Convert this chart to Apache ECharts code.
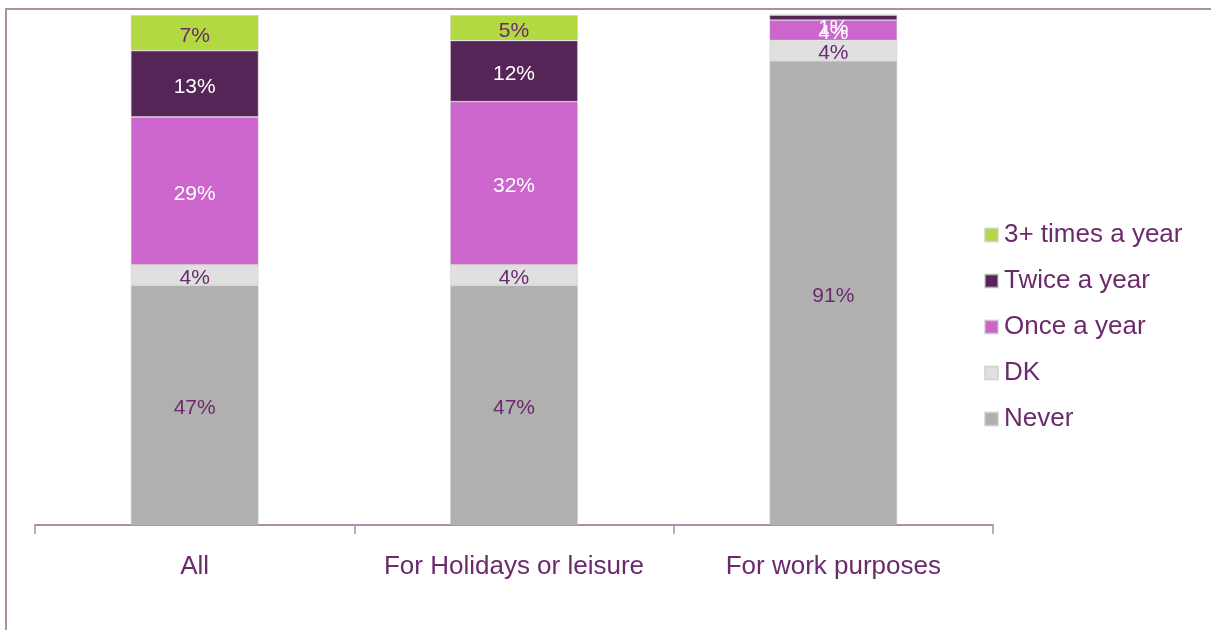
<!DOCTYPE html>
<html>
<head>
<meta charset="utf-8">
<script src="https://cdn.jsdelivr.net/npm/echarts@6/dist/echarts.min.js"></script>
<style>
html,body{margin:0;padding:0;background:#fff;}
#chart{width:1211px;height:630px;}
</style>
</head>
<body>
<div id="chart"></div>
<script>
const categories = ['All', 'For Holidays or leisure', 'For work purposes'];
const never = [47, 47, 91];
const dk = [4, 4, 4];
const once = [29, 32, 4];
const twice = [13, 12, 1];
const threePlus = [7, 5, 0];
const legendOrder = ['3+ times a year', 'Twice a year', 'Once a year', 'DK', 'Never'];

const purple = '#6a2a6c';
const axisCol = '#a890a8';
const font = 'Liberation Sans, Arial, sans-serif';

function mk(name, data, color, labelColor) {
  return {
    name: name,
    type: 'bar',
    stack: 'total',
    barWidth: '40%',
    data: data.map(v => {
      // tiny segments: Excel pushes the label down inside the bar
      if (v > 0 && v < 3) return { value: v, label: { offset: [0, 11] } };
      return v;
    }),
    itemStyle: { color: color, borderColor: 'rgba(200,200,200,0.6)', borderWidth: 0.8 },
    label: {
      show: true,
      position: 'inside',
      offset: [0, 3],
      formatter: p => (p.value === 0 ? '' : p.value + '%'),
      color: labelColor,
      fontFamily: font,
      fontSize: 21
    }
  };
}

const chart = echarts.init(document.getElementById('chart'));
chart.setOption({
  animation: false,
  backgroundColor: '#fff',
  grid: { left: 35, right: 218, top: 15, bottom: 105, containLabel: false },
  legend: {
    data: legendOrder,
    orient: 'vertical',
    left: 984,
    top: 222,
    padding: 0,
    itemWidth: 13,
    itemHeight: 13,
    itemGap: 20,
    icon: 'rect',
    textStyle: { color: purple, fontSize: 26, lineHeight: 25, fontFamily: font, padding: [0, 0, 0, 1] }
  },
  xAxis: {
    type: 'category',
    data: categories,
    axisLine: { lineStyle: { color: axisCol, width: 2 } },
    axisTick: { show: true, interval: 0, length: 9, lineStyle: { color: axisCol, width: 1.5 } },
    axisLabel: { interval: 0, hideOverlap: false, color: purple, fontSize: 26, margin: 29, fontFamily: font }
  },
  yAxis: {
    type: 'value',
    min: 0,
    max: 100,
    show: false,
    splitLine: { show: false }
  },
  graphic: [
    { type: 'line', shape: { x1: 5, y1: 9, x2: 1211, y2: 9 }, style: { stroke: axisCol, lineWidth: 2 } },
    { type: 'line', shape: { x1: 6, y1: 9, x2: 6, y2: 630 }, style: { stroke: axisCol, lineWidth: 2 } }
  ],
  series: [
    mk('Never', never, '#b0b0b0', purple),
    mk('DK', dk, '#e0e0e0', purple),
    mk('Once a year', once, '#cc66cc', '#ffffff'),
    mk('Twice a year', twice, '#552557', '#ffffff'),
    mk('3+ times a year', threePlus, '#b3d942', purple)
  ]
});
</script>
</body>
</html>
